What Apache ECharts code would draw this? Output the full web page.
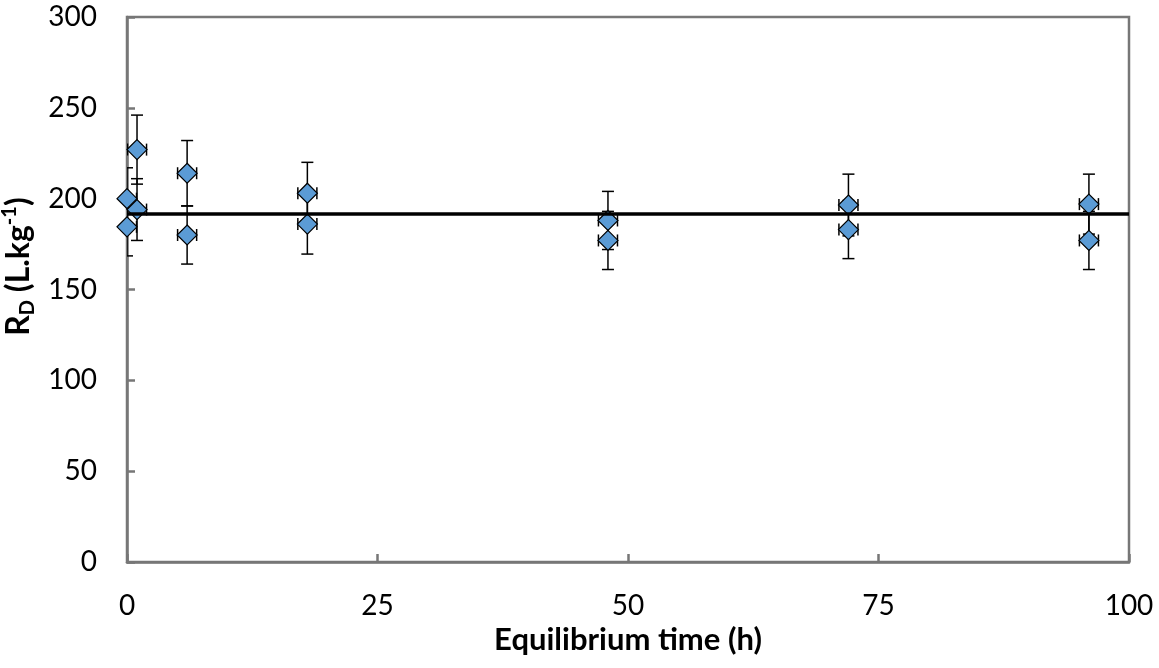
<!DOCTYPE html>
<html>
<head>
<meta charset="utf-8">
<script src="https://cdn.jsdelivr.net/npm/echarts@6/dist/echarts.min.js"></script>
<style>
  html, body { margin: 0; padding: 0; background: #fff; }
  #main { width: 1159px; height: 668px; }
</style>
</head>
<body>
<div id="main"></div>
<script>
// equilibrium time (h) and measured RD (L/kg)
var times  = [0, 0, 1, 1, 6, 6, 18, 18, 48, 48, 72, 72, 96, 96];
var rdVals = [200, 184.5, 227, 194, 214, 180, 203, 186, 188, 177, 196.5, 183, 197, 177];
var rdErr  = [17, 16, 19, 17, 18, 16, 17, 16.5, 16, 16, 17, 16, 16.5, 16];
var timeErr = [0.95, 0.95, 0.95, 0.95, 0.95, 0.95, 0.95, 0.95, 0.95, 0.95, 0.95, 0.95, 0.95, 0.95];
var meanRd = 191.5;
var fitX = [0, 100];
var xTicks = [0, 25, 50, 75, 100];
var yTicks = [0, 50, 100, 150, 200, 250, 300];

var FONT = 'Lato';

function buildPoints(){
    var pts = [];
    for(var i = 0 ; i < times.length ; i ++){
        pts.push([times[i], rdVals[i]]);
    }
    return pts;
}

function buildErrors(){
    var rows = [];
    for(var i = 0 ; i < times.length ; i ++){
        rows.push([times[i], rdVals[i], rdErr[i], timeErr[i]]);
    }
    return rows;
}

function renderErrorBar(params, api){
    var x = api.value(0), y = api.value(1);
    var ey = api.value(2), ex = api.value(3);
    var top = api.coord([x, y + ey]);
    var bot = api.coord([x, y - ey]);
    var lft = api.coord([x - ex, y]);
    var rgt = api.coord([x + ex, y]);
    var cap = 6;
    var st = { stroke: '#000', lineWidth: 1.5 };
    function seg(x1, y1, x2, y2){
        return { type: 'line', shape: { x1: x1, y1: y1, x2: x2, y2: y2 }, style: st };
    }
    return {
        type: 'group',
        children: [
            seg(top[0], top[1], bot[0], bot[1]),
            seg(top[0] - cap, top[1], top[0] + cap, top[1]),
            seg(bot[0] - cap, bot[1], bot[0] + cap, bot[1]),
            seg(lft[0], lft[1], rgt[0], rgt[1]),
            seg(lft[0], lft[1] - cap, lft[0], lft[1] + cap),
            seg(rgt[0], rgt[1] - cap, rgt[0], rgt[1] + cap)
        ]
    };
}

function drawChart(){
    var chart = echarts.init(document.getElementById('main'));
    var axisLine = { show: true, onZero: false, lineStyle: { color: '#777', width: 2.5 } };
    var option = {
        animation: false,
        textStyle: { fontFamily: FONT },
        grid: { left: 127, right: 30, top: 17, bottom: 106, show: true, borderColor: '#777', borderWidth: 2.5, outerBoundsMode: 'none', containLabel: false },
        xAxis: {
            type: 'value',
            min: xTicks[0], max: xTicks[xTicks.length - 1], interval: 25,
            axisLine: axisLine,
            axisTick: { show: true, inside: true, length: 8, lineStyle: { color: '#777', width: 2.5 } },
            splitLine: { show: false },
            axisLabel: { color: '#000', fontSize: 28, fontFamily: FONT, margin: 30 },
            name: 'Equilibrium time (h)',
            nameLocation: 'middle',
            nameGap: 53,
            nameTextStyle: { color: '#000', fontSize: 31, fontWeight: 'bold', fontFamily: FONT }
        },
        yAxis: {
            type: 'value',
            min: yTicks[0], max: yTicks[yTicks.length - 1], interval: 50,
            axisLine: axisLine,
            axisTick: { show: true, inside: true, length: 8, lineStyle: { color: '#777', width: 2.5 } },
            splitLine: { show: false },
            axisLabel: { color: '#000', fontSize: 28, fontFamily: FONT, margin: 30 },
            name: '{b|R}{sub|D}{b| (L.kg}{sup|-1}{b|)}',
            nameLocation: 'middle',
            nameGap: 76,
            nameTextStyle: {
                color: '#000',
                padding: [0, 0, 0, 46],
                rich: {
                    b: { fontSize: 32, fontWeight: 'bold', fontFamily: FONT, color: '#000', lineHeight: 38 },
                    sub: { fontSize: 20, fontWeight: 'bold', fontFamily: FONT, color: '#000', verticalAlign: 'bottom', lineHeight: 38 },
                    sup: { fontSize: 20, fontWeight: 'bold', fontFamily: FONT, color: '#000', verticalAlign: 'top', lineHeight: 38 }
                }
            }
        },
        series: [
            {
                name: 'error',
                type: 'custom',
                renderItem: renderErrorBar,
                data: buildErrors(),
                encode: { x: 0, y: 1 },
                clip: true,
                z: 1
            },
            {
                name: 'RD',
                type: 'scatter',
                symbol: 'diamond',
                symbolSize: [20, 20],
                itemStyle: { color: '#5B9BD5', borderColor: '#000', borderWidth: 1.2, opacity: 1 },
                data: buildPoints(),
                z: 2
            },
            {
                name: 'mean',
                type: 'line',
                symbol: 'none',
                lineStyle: { color: '#000', width: 3.5 },
                data: [[fitX[0], meanRd], [fitX[1], meanRd]],
                z: 3
            }
        ]
    };
    chart.setOption(option);
}

drawChart();
</script>
</body>
</html>
